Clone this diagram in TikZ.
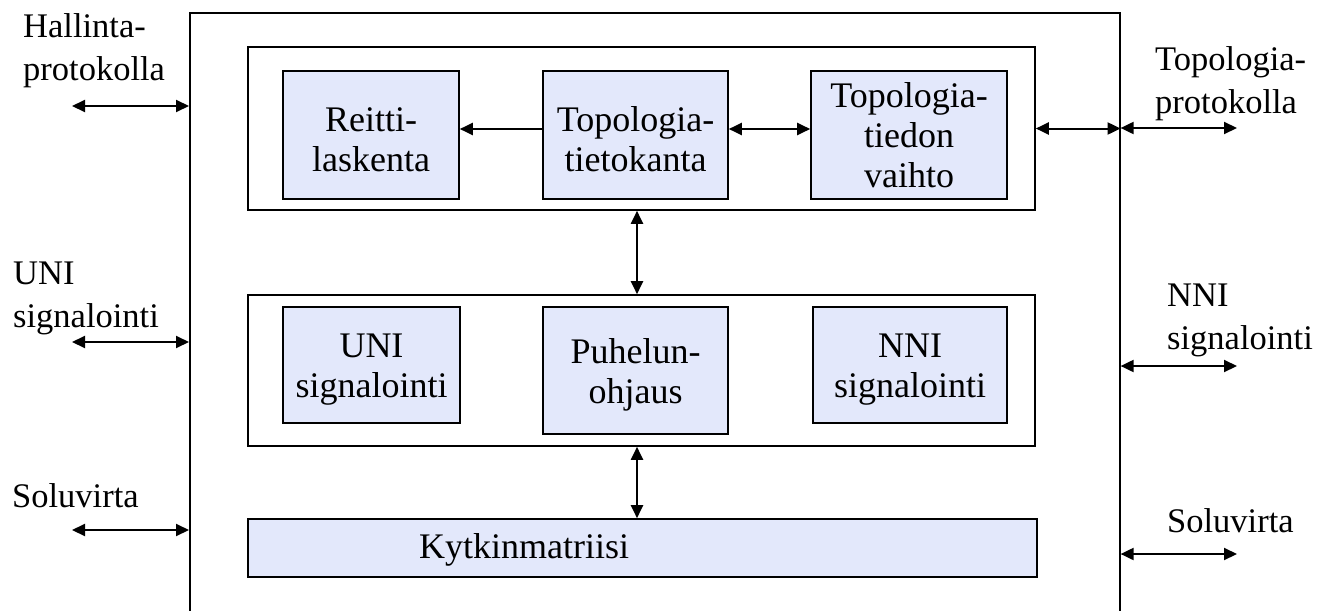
\documentclass[tikz,border=0pt]{standalone}
\usepackage{fontspec}
\setmainfont{Liberation Serif}
\usetikzlibrary{arrows.meta}
\definecolor{boxfill}{RGB}{227,232,251}
\newcommand\tstrut{\rule{0pt}{33pt}}
\tikzset{
  frame/.style={draw, line width=1.6pt, inner sep=0pt},
  block/.style={draw, line width=1.6pt, fill=boxfill, align=center, inner sep=0pt,
    font=\fontsize{36}{40}\selectfont},
  blocktext/.style={inner sep=0pt, font=\fontsize{36}{40}\selectfont},
  lbl/.style={align=left, inner sep=0pt, anchor=north west,
    font=\fontsize{34.5}{43}\selectfont},
  tip/.tip={Triangle[length=13pt,width=12pt]},
  arr/.style={line width=2pt, tip-tip},
  arrone/.style={line width=2pt, -tip}
}
\begin{document}
\begin{tikzpicture}[x=1pt,y=-1pt]
\useasboundingbox (0,0) rectangle (1327,610);
\clip (0,0) rectangle (1327,610);
\fill[white] (0,0) rectangle (1327,610);

% outer frame (bottom edge lies below the picture)
\node[frame, minimum width=930pt, minimum height=640pt, anchor=north west] (outer) at (189,12) {};

% panels
\node[frame, minimum width=787pt, minimum height=163pt] (toppanel) at (641.5,128.5) {};
\node[frame, minimum width=787pt, minimum height=151pt] (midpanel) at (641.5,370.5) {};

% blocks of the top panel
\node[block, minimum width=176pt, minimum height=128pt] (reitti) at (371,135) {\tstrut Reitti-\\laskenta};
\node[block, minimum width=185pt, minimum height=128pt] (tietokanta) at (635.5,135) {\tstrut Topologia-\\tietokanta};
\node[block, minimum width=196pt, minimum height=128pt] (vaihto) at (909,135) {Topologia-\\tiedon\\vaihto};

% blocks of the middle panel
\node[block, minimum width=177pt, minimum height=116pt] (uni) at (371.5,365) {\tstrut UNI\\signalointi};
\node[block, minimum width=185pt, minimum height=127pt] (puhelu) at (635.5,370.5) {\tstrut Puhelun-\\ohjaus};
\node[block, minimum width=194pt, minimum height=116pt] (nni) at (910,365) {\tstrut NNI\\signalointi};

% switching matrix
\node[block, minimum width=789pt, minimum height=58pt] (kyt) at (642.5,548) {};
\node[blocktext] (kyttext) at (524,550) {Kytkinmatriisi};

% outside labels
\node[lbl] (hallinta) at (23,13) {Hallinta-\\protokolla};
\node[lbl] (unilbl) at (13,262) {UNI\\signalointi};
\node[lbl] (solul) at (12,483) {Soluvirta};
\node[lbl] (topolbl) at (1155,46) {Topologia-\\protokolla};
\node[lbl] (nnilbl) at (1167,284) {NNI\\signalointi};
\node[lbl] (solur) at (1167,508) {Soluvirta};

% free ends of the outside connectors
\coordinate (hl) at (72,106);
\coordinate (ul) at (72,342);
\coordinate (sl) at (72,530);
\coordinate (tr) at (1237,128);
\coordinate (nr) at (1237,366);
\coordinate (sr) at (1237,554);

% connectors inside
\draw[arrone] ([yshift=6pt]tietokanta.west) -- ([yshift=6pt]reitti.east);
\draw[arr] ([yshift=6pt]tietokanta.east) -- ([yshift=6pt]vaihto.west);
\draw[arr] (toppanel.east) -- (toppanel.east -| outer.east);
\draw[arr] ([xshift=1.5pt]tietokanta.south |- toppanel.south) -- ([xshift=1.5pt]tietokanta.south |- midpanel.north);
\draw[arr] ([xshift=1.5pt]puhelu.south |- midpanel.south) -- ([xshift=1.5pt]puhelu.south |- kyt.north);

% connectors outside
\draw[arr] (hl) -- (hl -| outer.west);
\draw[arr] (ul) -- (ul -| outer.west);
\draw[arr] (sl) -- (sl -| outer.west);
\draw[arr] (tr -| outer.east) -- (tr);
\draw[arr] (nr -| outer.east) -- (nr);
\draw[arr] (sr -| outer.east) -- (sr);
\end{tikzpicture}
\end{document}
